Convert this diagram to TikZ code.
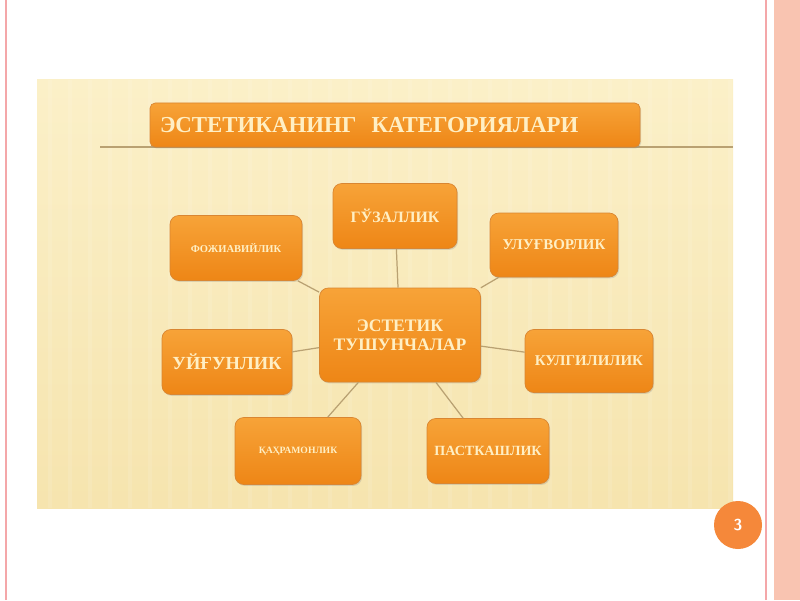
\documentclass[tikz,border=0pt]{standalone}
\usepackage{fontspec}
\setmainfont{Liberation Serif}
\usetikzlibrary{positioning,shapes,shadows}
\definecolor{boxtop}{HTML}{F7A338}
\definecolor{boxbottom}{HTML}{EE8616}
\definecolor{boxline}{HTML}{D98632}
\definecolor{boxtext}{HTML}{FFEFC4}
\definecolor{paneltop}{HTML}{FBF0C8}
\definecolor{panelbottom}{HTML}{F6E4AE}
\definecolor{linktan}{HTML}{B9A172}
\definecolor{pinkline}{HTML}{F4A7A9}
\definecolor{salmon}{HTML}{F9C4B1}
\definecolor{pagedot}{HTML}{F5883A}

\begin{document}
\begin{tikzpicture}[align=center]
    \tikzstyle{category} = [draw=boxline,rounded corners=5pt,top color=boxtop,bottom color=boxbottom,
      drop shadow={opacity=0.25,shadow xshift=0.6pt,shadow yshift=-0.8pt},
      text=boxtext,font=\bfseries,inner sep=2pt]
    \tikzstyle{link} = [draw=linktan,line width=0.7pt]
    \useasboundingbox (0,0) rectangle (16,12);
    % slide frame
    \fill[white] (0,0) rectangle (16,12);
    \fill[salmon] (15.48,0) rectangle (16,12);
    \draw[pinkline,line width=0.8pt] (0.12,0) -- (0.12,12);
    \draw[pinkline,line width=0.8pt] (15.32,0) -- (15.32,12);
    \shade[top color=paneltop,bottom color=panelbottom] (0.74,1.84) rectangle (14.66,10.4);
    \foreach \x in {1.0,1.4,...,14.6} \draw[white,opacity=0.1,line width=2pt] (\x,1.84) -- (\x,10.4);
    % title
    \draw[linktan,line width=0.6pt] (2.0,9.06) -- (14.66,9.06);
      \node[category,rounded corners=3pt,minimum width=9.8cm,minimum height=0.88cm,text width=9.4cm,align=left,
        font=\bfseries\fontsize{13}{15}\selectfont] (title) at (7.9,9.5) {ЭСТЕТИКАНИНГ\ \ КАТЕГОРИЯЛАРИ};
    % categories
      \node[category,minimum width=3.22cm,minimum height=1.88cm,font=\bfseries\fontsize{10}{11}\selectfont] (center) at (8.0,5.3) {ЭСТЕТИК\\ТУШУНЧАЛАР};
      \node[category,minimum width=2.48cm,minimum height=1.3cm,font=\bfseries\fontsize{9}{10}\selectfont] (guzal) at (7.9,7.68) {ГЎЗАЛЛИК};
      \node[category,minimum width=2.64cm,minimum height=1.3cm,font=\bfseries\fontsize{6}{7}\selectfont] (fojia) at (4.72,7.04) {ФОЖИАВИЙЛИК};
      \node[category,minimum width=2.56cm,minimum height=1.28cm,font=\bfseries\fontsize{8.5}{10}\selectfont] (ulugvor) at (11.08,7.1) {УЛУҒВОРЛИК};
      \node[category,minimum width=2.6cm,minimum height=1.3cm,font=\bfseries\fontsize{10.5}{12}\selectfont] (uygun) at (4.54,4.76) {УЙҒУНЛИК};
      \node[category,minimum width=2.56cm,minimum height=1.26cm,font=\bfseries\fontsize{8.5}{10}\selectfont] (kulgi) at (11.78,4.78) {КУЛГИЛИЛИК};
      \node[category,minimum width=2.52cm,minimum height=1.34cm,font=\bfseries\fontsize{5.5}{7}\selectfont] (qahramon) at (5.96,2.98) {ҚАҲРАМОНЛИК};
      \node[category,minimum width=2.44cm,minimum height=1.3cm,font=\bfseries\fontsize{8}{10}\selectfont] (pastkash) at (9.76,2.98) {ПАСТКАШЛИК};
      \foreach \n in {guzal,fojia,ulugvor,uygun,kulgi,qahramon,pastkash} \draw[link] (center) -- (\n);
    % page number
      \node[circle,fill=pagedot,minimum size=0.96cm,text=white,font=\sffamily\bfseries\small] (page) at (14.76,1.5) {3};
  \end{tikzpicture}
\end{document}
